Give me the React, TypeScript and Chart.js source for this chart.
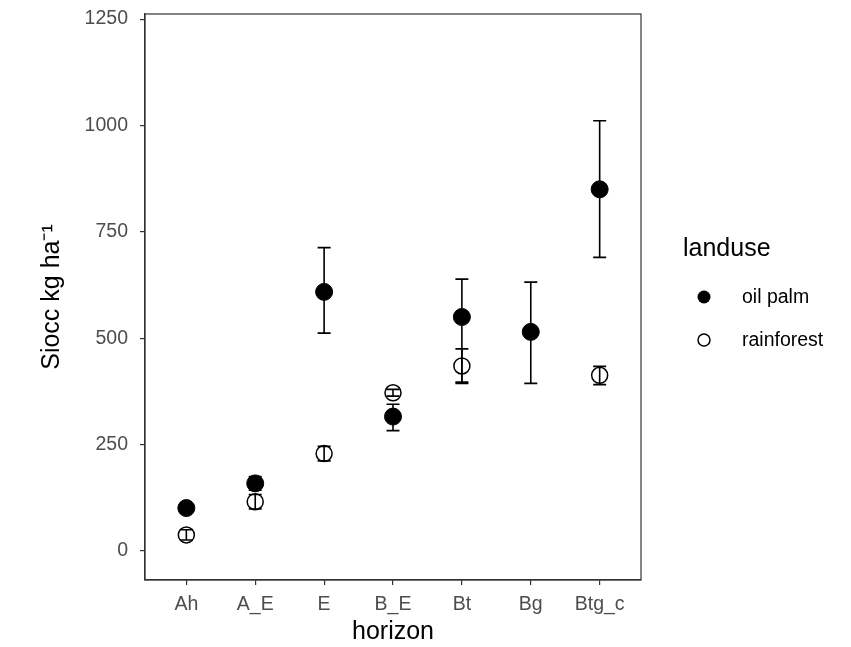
import React, { useEffect, useRef } from "react";
import { Chart, registerables } from "chart.js";

Chart.register(...registerables);

const horizons = ["Ah", "A_E", "E", "B_E", "Bt", "Bg", "Btg_c"];
const yTicks = [0, 250, 500, 750, 1000, 1250];

const oilPalmMean = [101, 159, 609, 316, 550, 515, 850];
const oilPalmLow = [93, 143, 512, 283, 394, 394, 690];
const oilPalmHigh = [109, 175, 713, 345, 639, 632, 1011];

const rainforestMean: (number | null)[] = [38, 116, 229, 372, 435, null, 413];
const rainforestLow: (number | null)[] = [26, 99, 212, 364, 397, null, 391];
const rainforestHigh: (number | null)[] = [50, 133, 246, 380, 475, null, 434];

const FONT = "'Liberation Sans', Arial, sans-serif";
const TICK_SIZE = 19.5;
const TITLE_SIZE = 25;

const errorBarPlugin = {
  id: "errorBars",
  beforeDatasetsDraw(chart: any) {
    const { ctx, scales } = chart;
    const x = scales.x;
    const y = scales.y;
    const cap = 6.5;
    ctx.save();
    ctx.strokeStyle = "#000";
    ctx.lineWidth = 1.6;
    const draw = (lo: (number | null)[], hi: (number | null)[]) => {
      horizons.forEach((_, i) => {
        const l = lo[i];
        const h = hi[i];
        if (l == null || h == null) return;
        const px = x.getPixelForValue(i);
        const pl = y.getPixelForValue(l);
        const ph = y.getPixelForValue(h);
        ctx.beginPath();
        ctx.moveTo(px, pl);
        ctx.lineTo(px, ph);
        ctx.moveTo(px - cap, pl);
        ctx.lineTo(px + cap, pl);
        ctx.moveTo(px - cap, ph);
        ctx.lineTo(px + cap, ph);
        ctx.stroke();
      });
    };
    draw(oilPalmLow, oilPalmHigh);
    draw(rainforestLow, rainforestHigh);
    ctx.restore();
  },
};

const frameLegendPlugin = {
  id: "frameLegend",
  afterDraw(chart: any) {
    const { ctx, chartArea } = chart;
    ctx.save();
    ctx.strokeStyle = "#333";
    ctx.lineWidth = 1.2;
    ctx.strokeRect(chartArea.left, chartArea.top, chartArea.right - chartArea.left, chartArea.bottom - chartArea.top);

    // legend
    ctx.fillStyle = "#000";
    ctx.textBaseline = "middle";
    ctx.textAlign = "left";
    ctx.font = `${TITLE_SIZE}px ${FONT}`;
    ctx.fillText("landuse", 683, 249);
    ctx.font = `${TICK_SIZE}px ${FONT}`;
    ctx.fillText("oil palm", 742, 298);
    ctx.fillText("rainforest", 742, 341);

    ctx.beginPath();
    ctx.arc(704, 297, 6.5, 0, Math.PI * 2);
    ctx.fill();
    ctx.beginPath();
    ctx.lineWidth = 1.5;
    ctx.strokeStyle = "#000";
    ctx.arc(704, 340, 6, 0, Math.PI * 2);
    ctx.stroke();
    ctx.restore();
  },
};

export default function App() {
  const ref = useRef<HTMLCanvasElement | null>(null);

  useEffect(() => {
    document.body.style.margin = "0";
    if (!ref.current) return;
    const chart = new Chart(ref.current, {
      type: "scatter",
      data: {
        datasets: [
          {
            label: "oil palm",
            data: horizons.map((_, i) => ({ x: i, y: oilPalmMean[i] })),
            pointRadius: 8.5,
            backgroundColor: "#000",
            borderColor: "#000",
            borderWidth: 1,
          },
          {
            label: "rainforest",
            data: horizons
              .map((_, i) => ({ x: i, y: rainforestMean[i] }))
              .filter((d) => d.y != null) as any,
            pointRadius: 8,
            backgroundColor: "rgba(0,0,0,0)",
            borderColor: "#000",
            borderWidth: 1.5,
          },
        ],
      },
      options: {
        animation: false,
        responsive: false,
        events: [],
        layout: { padding: { left: 0, right: 210, top: 14, bottom: 0 } },
        plugins: { legend: { display: false }, tooltip: { enabled: false } },
        scales: {
          x: {
            type: "linear",
            min: -0.6,
            max: 6.6,
            afterBuildTicks: (scale: any) => {
              scale.ticks = horizons.map((_, i) => ({ value: i }));
            },
            afterFit: (scale: any) => {
              scale.height = 67;
              scale.paddingLeft = 0;
              scale.paddingRight = 0;
            },
            ticks: {
              autoSkip: false,
              maxRotation: 0,
              color: "#4D4D4D",
              font: { family: FONT, size: TICK_SIZE },
              padding: 8,
              callback: (v: any) => horizons[v as number] ?? "",
            },
            grid: { drawOnChartArea: false, drawTicks: true, tickLength: 5, color: "#333", lineWidth: 1.2 },
            border: { display: true, color: "#333", width: 1.2 },
            title: {
              display: true,
              text: "horizon",
              color: "#000",
              font: { family: FONT, size: TITLE_SIZE },
              padding: { top: 0, bottom: 0 },
            },
          },
          y: {
            type: "linear",
            min: -68,
            max: 1262,
            afterBuildTicks: (scale: any) => {
              scale.ticks = yTicks.map((v) => ({ value: v }));
            },
            afterFit: (scale: any) => {
              scale.width = 145;
              scale.paddingTop = 0;
              scale.paddingBottom = 0;
            },
            ticks: {
              color: "#4D4D4D",
              font: { family: FONT, size: TICK_SIZE },
              padding: 12,
              callback: (v: any) => String(v),
            },
            grid: { drawOnChartArea: false, drawTicks: true, tickLength: 5, color: "#333", lineWidth: 1.2 },
            border: { display: true, color: "#333", width: 1.2 },
            title: {
              display: true,
              text: "Siocc kg ha\u207B\u00B9",
              color: "#000",
              font: { family: FONT, size: TITLE_SIZE },
              padding: { top: 37, bottom: 0 },
            },
          },
        },
      },
      plugins: [errorBarPlugin, frameLegendPlugin],
    });
    return () => chart.destroy();
  }, []);

  return <canvas ref={ref} width={851} height={647} style={{ display: "block" }} />;
}
